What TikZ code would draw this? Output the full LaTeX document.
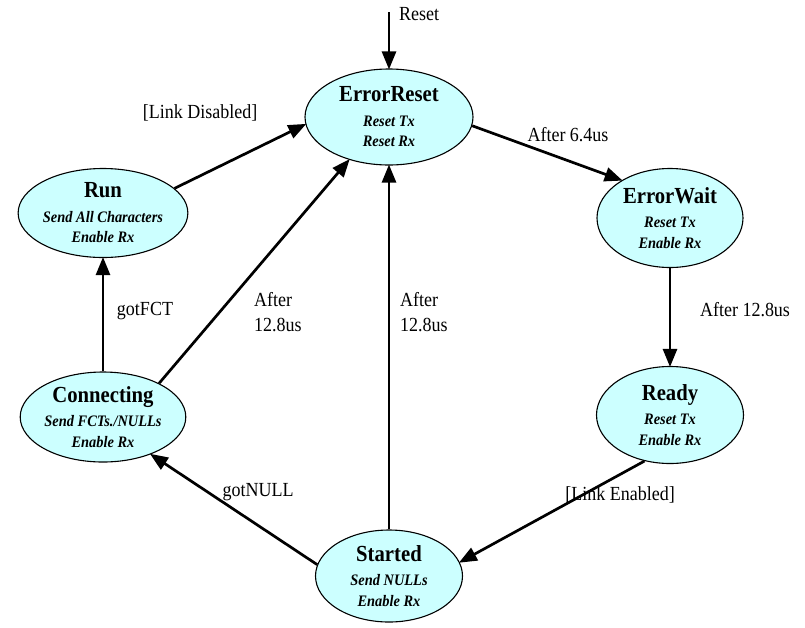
\documentclass[tikz,border=0pt]{standalone}
\usepackage{fontspec}
\setmainfont{Liberation Serif}[FakeStretch=0.9]
\usetikzlibrary{arrows.meta,shapes.geometric}
\definecolor{statefill}{HTML}{CCFFFF}
\newcommand\sttitle[1]{{\upshape\bfseries\fontsize{23}{24}\selectfont #1}\\[4pt]}
\begin{document}
\begin{tikzpicture}[x=1pt,y=-1pt,
  state/.style={draw, line width=1.1pt, fill=statefill, ellipse, inner sep=0pt,
    align=center, font=\bfseries\itshape\fontsize{16}{20.5}\selectfont},
  lbl/.style={inner sep=0pt, font=\fontsize{20}{25}\selectfont},
  arr/.style={line width=2.7pt, -{Triangle[length=18pt,width=14pt]}, shorten >=-1pt}]
\useasboundingbox (0,0) rectangle (805,627);

\node[state, minimum width=168pt, minimum height=96pt] (er) at (389,117) {\sttitle{ErrorReset}Reset Tx\\Reset Rx};
\node[state, minimum width=146pt, minimum height=99pt] (ew) at (670,218) {\sttitle{ErrorWait}Reset Tx\\Enable Rx};
\node[state, minimum width=147pt, minimum height=97pt] (rd) at (670,415) {\sttitle{Ready}Reset Tx\\Enable Rx};
\node[state, minimum width=147pt, minimum height=92pt] (st) at (389,576) {\sttitle{Started}Send NULLs\\Enable Rx};
\node[state, minimum width=160pt, minimum height=90pt] (cn) at (103,417) {\sttitle{Connecting}Send FCTs./NULLs\\Enable Rx};
\node[state, minimum width=163pt, minimum height=89pt] (rn) at (103,213) {\sttitle{Run}Send All Characters\\Enable Rx};

\coordinate (rs) at (389,12);
\draw[arr] (rs) -- (er.north);
\draw[arr] (rn.19) -- (er.185);
\draw[arr] (er.354) -- (ew.142);
\draw[arr] (ew.south) -- (rd.north);
\draw[arr] (rd.241) -- (st.11);
\draw[arr] (st.171) -- (cn.322);
\draw[arr] (st.north) -- (er.south);
\draw[arr] (cn.31) -- (er.227);
\draw[arr] (cn.north) -- (rn.south);

\node[lbl] (lreset) at (419,14) {Reset};
\node[lbl] (ldis) at (200,113) {[Link Disabled]};
\node[lbl] (l64) at (568,135) {After 6.4us};
\node[lbl] (l128r) at (745,310) {After 12.8us};
\node[lbl] (len) at (620,495) {[Link Enabled]};
\node[lbl] (lnull) at (258,492) {gotNULL};
\node[lbl] (lfct) at (145,311) {gotFCT};
\node[lbl, align=left, anchor=west] (l128l) at (254,312) {After\\12.8us};
\node[lbl, align=left, anchor=west] (l128m) at (400,312) {After\\12.8us};
\end{tikzpicture}
\end{document}
